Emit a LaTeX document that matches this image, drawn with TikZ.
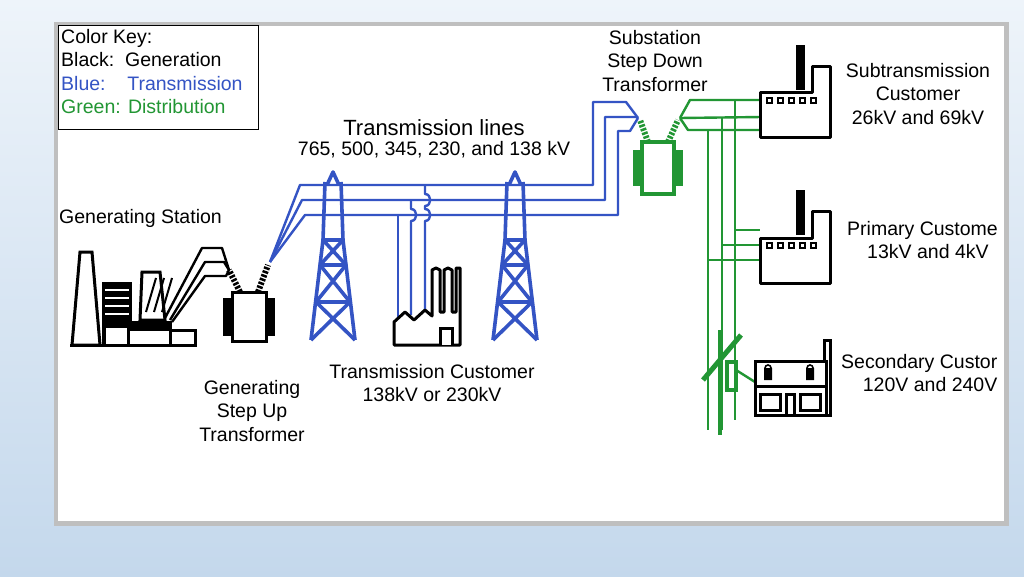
\documentclass[tikz,border=0pt]{standalone}
\usepackage{fontspec}
\setmainfont{Liberation Sans}
\usetikzlibrary{positioning}
\definecolor{trblue}{RGB}{52,84,196}
\definecolor{dgreen}{RGB}{34,150,52}
\definecolor{bgtop}{RGB}{238,244,250}
\definecolor{bgbot}{RGB}{196,216,236}
\begin{document}
\begin{tikzpicture}[x=1pt,y=-1pt,
lbl/.style={font=\fontsize{19.5}{23.5}\selectfont,align=center,inner sep=1pt},
gen/.style={line width=3pt,black},
trans/.style={line width=3.6pt,trblue},
dist/.style={line width=3.4pt,dgreen},
wire/.style={line width=2.4pt,line join=round},
bush/.style={line width=6pt,dash pattern=on 2.5pt off 1.5pt}]
\useasboundingbox (0,0) rectangle (1024,577);
% background and panel
\shade[top color=bgtop,bottom color=bgbot] (0,0) rectangle (1024,577);
\fill[black!25] (54,22) rectangle (1009,526);
\fill[white] (58,26) rectangle (1004,521);
% color key
\draw[line width=1pt] (58,26) rectangle (258,130);
\node (key) [lbl,align=left,anchor=north west] at (60,28)
 {Color Key:\\Black:\ \ Generation\\\textcolor{trblue}{Blue:\ \ \ \ Transmission}\\\textcolor{dgreen}{Green: Distribution}};
% generating station
\draw[gen,fill=white] (72,345) -- (80,252) -- (92,252) -- (100,345) -- cycle;
\fill (102,282) rectangle (132,345);
\foreach \y in {290,298,306,314} \draw[white,line width=1.8pt] (105,\y) -- (129,\y);
\draw[gen,fill=white] (104,326) rectangle (130,345);
\draw[gen,fill=white] (142,272) -- (160,272) -- (165,320) -- (140,320) -- cycle;
\foreach \i in {0,8,16} \draw[line width=2pt] (146+\i,312) -- (156+\i,278);
\draw[gen,fill=white] (128,322) rectangle (170,345);
\fill (128,322) rectangle (170,331);
\draw[gen,fill=white] (170,330) rectangle (195,345);
\draw[gen] (70,345) -- (197,345);
% generating step up transformer
\draw[gen,fill=white] (232,292) rectangle (266,341);
\fill (223,298) rectangle (232,336);
\fill (266,298) rectangle (275,336);
\draw[bush] (240,292) -- (229,270);
\draw[bush] (258,292) -- (268,265);
\coordinate (gbl) at (229,270);
\coordinate (gbr) at (270,262);
\draw[gen,wire] (165,318) -- (202,248) -- (222,248) -- (gbl);
\draw[gen,wire] (170,320) -- (205,262) -- (224,262) -- (gbl);
\draw[gen,wire] (172,322) -- (205,276) -- (226,276) -- (gbl);
% transmission lines
\draw[trans,wire] (gbr) -- (300,185) -- (593,185) -- (593,102) -- (626,102) -- (638,118);
\draw[trans,wire] (gbr) -- (302,200) -- (605,200) -- (605,117) -- (636,117) -- (638,118);
\draw[trans,wire] (gbr) -- (305,215) -- (618,215) -- (618,131) -- (630,131) -- (638,118);
% towers
\foreach \tx in {333,515}{
 \draw[trans,line join=round] (\tx-6,185) -- (\tx,172) -- (\tx+6,185);
 \draw[trans] (\tx-8,182) -- (\tx-10,240) -- (\tx-22,340);
 \draw[trans] (\tx+8,182) -- (\tx+10,240) -- (\tx+22,340);
 \draw[trans] (\tx-10,240) -- (\tx+10,240) (\tx-13,265) -- (\tx+13,265) (\tx-17,302) -- (\tx+17,302);
 \draw[trans] (\tx-10,240) -- (\tx+13,265) (\tx+10,240) -- (\tx-13,265);
 \draw[trans] (\tx-13,265) -- (\tx+17,302) (\tx+13,265) -- (\tx-17,302);
 \draw[trans] (\tx-17,302) -- (\tx+22,340) (\tx+17,302) -- (\tx-22,340);
}
% transmission customer taps (hop over the lines)
\draw[trans,wire] (398,215) -- (398,318);
\draw[trans,wire] (411,200) -- (411,209) .. controls (418,209) and (418,221) .. (411,221) -- (411,315);
\draw[trans,wire] (425,185) -- (425,194) .. controls (432,194) and (432,206) .. (425,206)
 -- (425,209) .. controls (432,209) and (432,221) .. (425,221) -- (425,312);
\draw[gen,line join=round,fill=white] (394,345) -- (394,322) -- (405,312) -- (414,320) -- (425,310) -- (432,316) -- (432,270) -- (436,268) -- (440,270) -- (440,312) -- (444,312) -- (444,270) -- (448,268) -- (452,270) -- (452,312) -- (456,312) -- (456,268) -- (460,268) -- (460,345) -- cycle;
\fill[white] (440,328) rectangle (452,345);
\draw[gen] (440,345) -- (440,328) -- (452,328) -- (452,345);
% substation step down transformer
\draw[dist,fill=white] (642,142) rectangle (674,194);
\fill[dgreen] (633,150) rectangle (642,186);
\fill[dgreen] (674,150) rectangle (683,186);
\draw[dgreen,bush] (648,142) -- (640,120);
\draw[dgreen,bush] (668,142) -- (678,120);
\coordinate (sbr) at (680,118);
% distribution lines
\draw[dist,wire] (sbr) -- (690,100) -- (760,100);
\draw[dist,wire] (sbr) -- (762,117);
\draw[dist,wire] (sbr) -- (688,130) -- (760,130);
\draw[dist,wire] (708,130) -- (708,430);
\draw[dist,wire] (722,117) -- (722,430);
\draw[dist,wire] (735,100) -- (735,420);
\draw[dist,wire] (735,230) -- (760,230);
\draw[dist,wire] (722,245) -- (760,245);
\draw[dist,wire] (708,260) -- (760,260);
% pole
\draw[dgreen,line width=4pt] (720,330) -- (720,435);
\draw[dgreen,line width=5pt] (703,380) -- (741,335);
\draw[dist,fill=white] (727,362) rectangle (736,390);
\draw[dist,wire] (736,370) -- (755,382);
% customer factories
\foreach \fy in {45,190}{
 \fill (796,\fy) rectangle (805,\fy+45);
 \draw[gen,line join=round,fill=white] (760,\fy+93) -- (760,\fy+48) -- (812,\fy+48) -- (812,\fy+22) -- (830,\fy+22) -- (830,\fy+93) -- cycle;
 \foreach \wx in {767,778,789,800,811} \draw[line width=1.8pt] (\wx,\fy+53) rectangle (\wx+5,\fy+58);
}
% house
\draw[gen] (824,340) rectangle (830,415);
\draw[gen,fill=white] (755,361) rectangle (826,415);
\draw[gen] (755,386) -- (826,386);
\draw[gen] (760,394) rectangle (780,410) (800,394) rectangle (820,410) (786,394) rectangle (794,415);
\fill (764,368) rectangle (772,380) (806,368) rectangle (814,380);
\draw[line width=1.6pt] (768,368) circle (3);
\draw[line width=1.6pt] (810,368) circle (3);
% labels
\node (trlines) [lbl,font=\fontsize{22}{25}\selectfont] at (434,128) {Transmission lines};
\node (trkv) [lbl,below=3pt of trlines] {765, 500, 345, 230, and 138 kV};
\node (genst) [lbl,anchor=west] at (58,218) {Generating Station};
\node (genup) [lbl] at (252,411) {Generating\\Step Up\\Transformer};
\node (trcust) [lbl] at (432,383) {Transmission Customer\\138kV or 230kV};
\node (subst) [lbl] at (655,61) {Substation\\Step Down\\Transformer};
\node (subcust) [lbl] at (918,94) {Subtransmission\\Customer\\26kV and 69kV};
\node (primcust) [lbl,anchor=north west] at (846,220) {Primary Custome\\\ \ 13kV and 4kV};
\node (seccust) [lbl,anchor=north west] at (840,353) {Secondary Custor\\\ \ \ \ 120V and 240V};
% panel edge cuts the labels
\begin{scope}
\clip (1004,0) rectangle (1024,577);
\shade[top color=bgtop,bottom color=bgbot] (0,0) rectangle (1024,577);
\fill[black!25] (1004,22) rectangle (1009,526);
\end{scope}
\end{tikzpicture}
\end{document}
